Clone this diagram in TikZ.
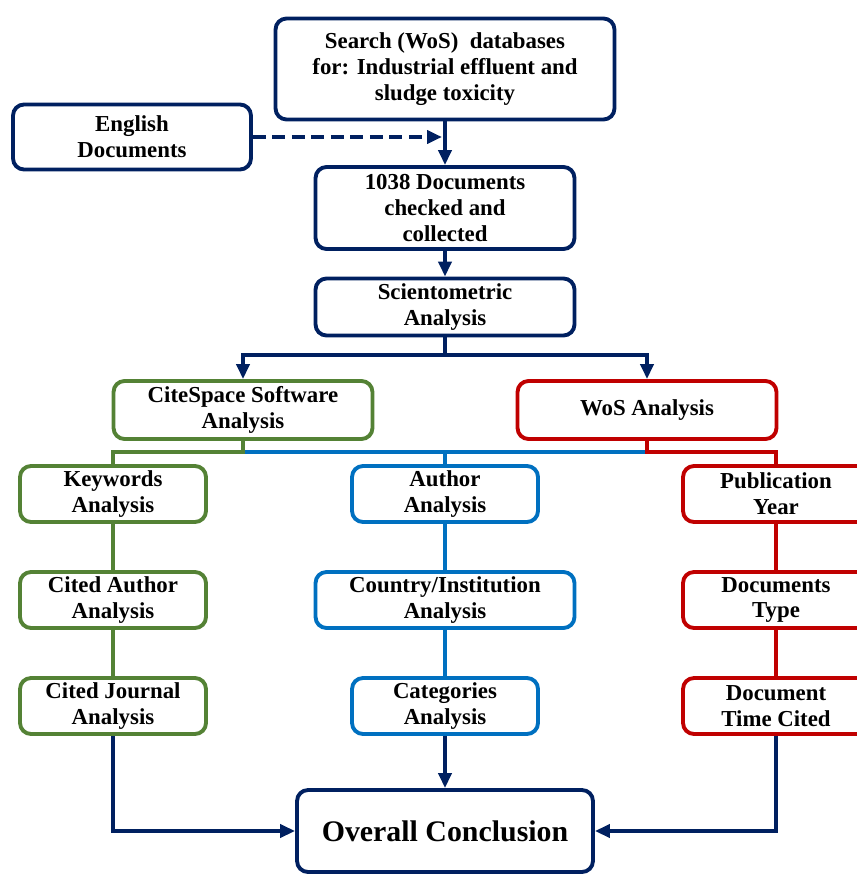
\documentclass[tikz,border=0pt]{standalone}
\usepackage{fontspec}
\setmainfont{Liberation Serif}
\usepackage{xcolor}
\usetikzlibrary{arrows.meta,positioning}
\definecolor{navy}{RGB}{0,32,96}
\definecolor{leaf}{RGB}{84,130,53}
\definecolor{sky}{RGB}{0,112,192}
\definecolor{crimson}{RGB}{192,0,0}
\tikzset{
  box/.style={draw, line width=2.2pt, rounded corners=0.22cm, align=center,
    fill=white, font=\bfseries\fontsize{13}{14.6}\selectfont, inner sep=2pt},
  navybox/.style={box, draw=navy},
  leafbox/.style={box, draw=leaf, minimum width=3.72cm, minimum height=1.12cm},
  skybox/.style={box, draw=sky},
  redbox/.style={box, draw=crimson, minimum width=3.72cm, minimum height=1.12cm},
  link/.style={line width=2.2pt},
  arr/.style={link, draw=navy, -{Triangle[length=0.3cm,width=0.26cm]}},
}
\begin{document}
\begin{tikzpicture}[x=0.02cm,y=-0.02cm]
    \useasboundingbox (0,0) rectangle (856,875);

    \node[navybox, minimum width=6.78cm, minimum height=2.02cm] (search) at (445,69)
      {Search (WoS)~ databases\\for: Industrial effluent and\\sludge toxicity};
    \node[navybox, minimum width=4.76cm, minimum height=1.3cm] (english) at (132,137)
      {English\\Documents};
    \node[navybox, minimum width=5.18cm, minimum height=1.64cm] (collected) at (445,208)
      {1038 Documents\\checked and\\collected};
    \node[navybox, minimum width=5.18cm, minimum height=1.14cm] (sciento) at (445,307)
      {Scientometric\\Analysis};
    \node[box, draw=leaf, minimum width=5.18cm, minimum height=1.16cm] (citespace) at (243,410)
      {CiteSpace Software\\Analysis};
    \node[box, draw=crimson, minimum width=5.18cm, minimum height=1.16cm] (wos) at (647,410)
      {WoS Analysis};

    \node[leafbox] (keywords) at (113,494) {Keywords\\Analysis};
    \node[leafbox] (citedauthor) at (113,600) {Cited Author\\Analysis};
    \node[leafbox] (citedjournal) at (113,706) {Cited Journal\\Analysis};

    \node[skybox, minimum width=3.72cm, minimum height=1.12cm] (author) at (445,494) {Author\\Analysis};
    \node[skybox, minimum width=5.18cm, minimum height=1.12cm] (country) at (445,600) {Country/Institution\\Analysis};
    \node[skybox, minimum width=3.72cm, minimum height=1.12cm] (categories) at (445,706) {Categories\\Analysis};

    \node[redbox] (pubyear) at (776,494) {Publication\\Year};
    \node[redbox] (doctype) at (776,600) {Documents\\Type};
    \node[redbox] (timecited) at (776,706) {Document\\Time Cited};

    \node[navybox, minimum width=5.92cm, minimum height=1.64cm,
      font=\bfseries\fontsize{17}{19}\selectfont] (overall) at (445,831) {Overall Conclusion};

    \coordinate (split) at (445,355);
    \coordinate (bar) at (445,452);

    \draw[arr] (search) -- (collected);
    \draw[arr, dash pattern=on 0.26cm off 0.13cm] (english.east) -- ([xshift=-0.06cm]english.east -| search.south);
    \draw[arr] (collected) -- (sciento);
    \draw[link, navy] (sciento.south) -- (split);
    \draw[arr] (split) -| (citespace.north);
    \draw[arr] (split) -| (wos.north);

    \draw[link, sky] (citespace.south |- bar) -- (wos.south |- bar);
    \draw[link, sky] (author.north |- bar) -- (author.north);
    \draw[link, leaf] (citespace.south) -- (citespace.south |- bar) -| (keywords.north);
    \draw[link, crimson] (wos.south) -- (wos.south |- bar) -| (pubyear.north);

    \draw[link, leaf] (keywords) -- (citedauthor);
    \draw[link, leaf] (citedauthor) -- (citedjournal);
    \draw[link, sky] (author) -- (country);
    \draw[link, sky] (country) -- (categories);
    \draw[link, crimson] (pubyear) -- (doctype);
    \draw[link, crimson] (doctype) -- (timecited);

    \draw[arr] (citedjournal.south) |- (overall.west);
    \draw[arr] (categories) -- (overall);
    \draw[arr] (timecited.south) |- (overall.east);
\end{tikzpicture}
\end{document}
